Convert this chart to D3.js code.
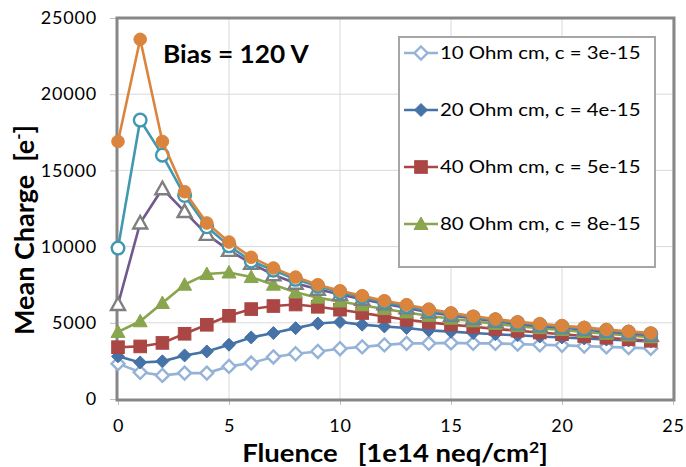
<!DOCTYPE html>
<html lang="en">
<head>
<meta charset="UTF-8">
<title>Mean Charge vs Fluence</title>
<script src="https://d3js.org/d3.v7.min.js"></script>
<style>
  body { margin: 0; background: #fff; }
  svg text { font-family: Lato, "Open Sans", sans-serif; fill: #000; }
</style>
</head>
<body>
<div id="chart"></div>
<script>
// fluence points, 1e14 neq/cm2
var fluence = d3.range(0, 25);

var lightBlue = [2320, 1750, 1550, 1700, 1700, 2140, 2360, 2760, 2970, 3120, 3300, 3420, 3550, 3650, 3650, 3680, 3650, 3650, 3600, 3560, 3520, 3470, 3420, 3370, 3320];
var darkBlue  = [2800, 2400, 2470, 2860, 3120, 3560, 4040, 4330, 4650, 4950, 5050, 4880, 4760, 4660, 4500, 4420, 4330, 4250, 4180, 4100, 4040, 3970, 3900, 3840, 3780];
var red       = [3400, 3450, 3680, 4280, 4870, 5460, 5900, 6100, 6200, 6050, 5860, 5640, 5420, 5200, 5030, 4880, 4740, 4600, 4480, 4360, 4250, 4130, 4020, 3920, 3820];
var green     = [4400, 5100, 6300, 7500, 8200, 8300, 8000, 7500, 7000, 6650, 6400, 6150, 5900, 5680, 5460, 5270, 5100, 4930, 4780, 4650, 4530, 4400, 4280, 4170, 4050];
var purple    = [6200, 11550, 13800, 12300, 10800, 9750, 8900, 8150, 7600, 7200, 6850, 6550, 6250, 5980, 5700, 5480, 5280, 5100, 4930, 4800, 4680, 4560, 4420, 4300, 4180];
var teal      = [9900, 18300, 16000, 13350, 11300, 10050, 9050, 8450, 7850, 7400, 7000, 6680, 6350, 6080, 5800, 5580, 5370, 5180, 5000, 4870, 4750, 4630, 4490, 4380, 4270];
var orange    = [16900, 23600, 16900, 13600, 11550, 10300, 9300, 8600, 8000, 7500, 7100, 6780, 6450, 6190, 5900, 5650, 5430, 5250, 5060, 4940, 4810, 4700, 4560, 4440, 4330];

var legendLabels = ["10 Ohm cm, c = 3e-15", "20 Ohm cm, c = 4e-15", "40 Ohm cm, c = 5e-15", "80 Ohm cm, c = 8e-15"];
var xTicks = [0, 5, 10, 15, 20, 25];
var yTicks = [0, 5000, 10000, 15000, 20000, 25000];

var series = [
  {values: lightBlue, line: "#95B3D7", marker: "diamond", fill: "#fff", stroke: "#95B3D7"},
  {values: darkBlue,  line: "#4572A7", marker: "diamond", fill: "#4572A7", stroke: "#4572A7"},
  {values: red,       line: "#AA4643", marker: "square", fill: "#AA4643", stroke: "#AA4643"},
  {values: green,     line: "#89A54E", marker: "triangle", fill: "#89A54E", stroke: "#89A54E"},
  {values: purple,    line: "#71588F", marker: "triangle", fill: "#fff", stroke: "#7f7f7f"},
  {values: teal,      line: "#4198AF", marker: "circle", fill: "#fff", stroke: "#4198AF"},
  {values: orange,    line: "#DB843D", marker: "circle", fill: "#DB843D", stroke: "#DB843D"}
];

var w = 686, h = 467;
var pLeft = 118, pRight = 673, pTop = 18, pBottom = 399;

var svg = d3.select("#chart").append("svg").attr("width", w).attr("height", h);

var x = d3.scaleLinear().domain([0, 25]).range([pLeft, pRight]);
var y = d3.scaleLinear().domain([0, 25000]).range([pBottom, pTop]);

// grid
svg.append("g").selectAll("line").data(yTicks.slice(1)).enter().append("line")
  .attr("x1", pLeft).attr("x2", pRight)
  .attr("y1", function(d){ return y(d); }).attr("y2", function(d){ return y(d); })
  .style("stroke", "#d9d9d9").style("stroke-width", 1);
svg.append("g").selectAll("line").data(xTicks.slice(1)).enter().append("line")
  .attr("x1", function(d){ return x(d); }).attr("x2", function(d){ return x(d); })
  .attr("y1", pTop).attr("y2", pBottom)
  .style("stroke", "#d9d9d9").style("stroke-width", 1);

// axes
var yAxis = svg.append("g").attr("transform", "translate(" + pLeft + ",0)")
  .call(d3.axisLeft(y).tickValues(yTicks).tickSize(8).tickPadding(13).tickFormat(d3.format("d")));
var xAxis = svg.append("g").attr("transform", "translate(0," + pBottom + ")")
  .call(d3.axisBottom(x).tickValues(xTicks).tickSize(6).tickPadding(14));
[xAxis, yAxis].forEach(function(a){
  a.select(".domain").remove();
  a.selectAll(".tick line").style("stroke", "#bfbfbf");
  a.selectAll(".tick text").style("font-size", "18px").style("font-family", "Lato, sans-serif")
    .style("letter-spacing", "0.8px").style("fill", "#000");
});

// plot frame
svg.append("rect").attr("x", pLeft - 1).attr("y", pTop).attr("width", pRight - pLeft + 2).attr("height", pBottom - pTop + 1)
  .style("fill", "none").style("stroke", "#878787").style("stroke-width", 3);

var line = d3.line().x(function(d, i){ return x(fluence[i]); }).y(function(d){ return y(d); });

function drawMarker(g, type, cx, cy, s) {
  var m;
  if (type == "diamond") {
    m = g.append("path").attr("d", "M" + cx + "," + (cy - 6.5) + "L" + (cx + 6.5) + "," + cy + "L" + cx + "," + (cy + 6.5) + "L" + (cx - 6.5) + "," + cy + "Z");
  } else if (type == "square") {
    m = g.append("rect").attr("x", cx - 6.3).attr("y", cy - 6.3).attr("width", 12.6).attr("height", 12.6);
  } else if (type == "triangle") {
    m = g.append("path").attr("d", "M" + cx + "," + (cy - 7) + "L" + (cx + 7) + "," + (cy + 5.5) + "L" + (cx - 7) + "," + (cy + 5.5) + "Z");
  } else {
    m = g.append("circle").attr("cx", cx).attr("cy", cy).attr("r", 6.3);
  }
  m.style("fill", s.fill).style("stroke", s.stroke).style("stroke-width", s.fill == "#fff" ? 2.4 : 1);
  return m;
}

series.forEach(function(s){
  var g = svg.append("g");
  g.append("path").datum(s.values).attr("d", line)
    .style("fill", "none").style("stroke", s.line).style("stroke-width", 2.6);
  s.values.forEach(function(v, i){
    drawMarker(g, s.marker, x(fluence[i]), y(v), s);
  });
});

// annotation
svg.append("text").attr("transform", "translate(163,63) scale(1.05,1)").text("Bias = 120 V")
  .style("font-size", "25px").style("font-weight", "bold");

// legend
var lg = svg.append("g");
lg.append("rect").attr("x", 399).attr("y", 37).attr("width", 256).attr("height", 230)
  .style("fill", "#fff").style("stroke", "#a6a6a6").style("stroke-width", 2);
legendLabels.forEach(function(lab, i){
  var cy = 53 + i * 57, s = series[i];
  lg.append("line").attr("x1", 404).attr("x2", 438).attr("y1", cy).attr("y2", cy)
    .style("stroke", s.line).style("stroke-width", 2.6);
  drawMarker(lg, s.marker, 421, cy, s);
  lg.append("text").attr("transform", "translate(440," + (cy + 6) + ") scale(1.2,1)")
    .text(lab).style("font-size", "17px");
});

// axis titles
svg.append("text").attr("transform", "translate(395,462) scale(1.1,1)").attr("text-anchor", "middle")
  .style("font-size", "25px").style("font-weight", "bold")
  .html('Fluence&#160;&#160;&#160;[1e14 neq/cm<tspan dy="-9" font-size="16px">2</tspan><tspan dy="9">]</tspan>');
svg.append("text").attr("transform", "translate(34,230) rotate(-90)").attr("text-anchor", "middle")
  .style("font-size", "27px").style("font-weight", "bold")
  .html('Mean Charge&#160;&#160;[e<tspan dy="-10" font-size="17px">-</tspan><tspan dy="10">]</tspan>');
</script>
</body>
</html>
